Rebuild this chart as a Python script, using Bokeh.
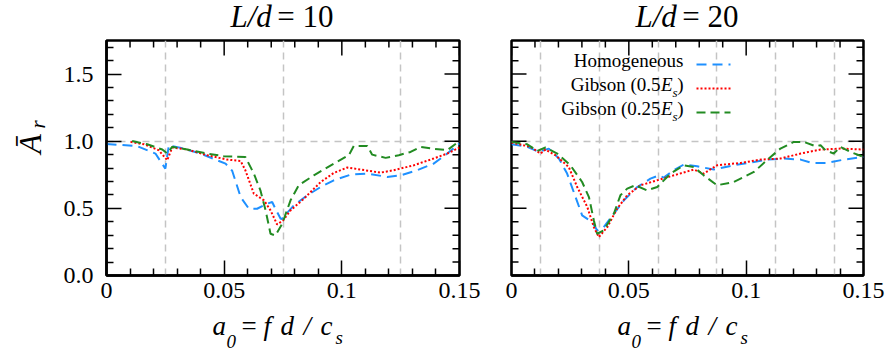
import math
from bokeh.plotting import figure
from bokeh.layouts import row, column
from bokeh.models import Range1d, FixedTicker, LinearAxis, Label
from bokeh.embed import file_html
from bokeh.resources import INLINE

# ---------------- data ----------------
x_ticks = [0.0, 0.05, 0.1, 0.15]
x_tick_labels = ["0", "0.05", "0.1", "0.15"]
x_minor_ticks = [0.01, 0.02, 0.03, 0.04, 0.06, 0.07, 0.08, 0.09, 0.11, 0.12, 0.13, 0.14]
y_ticks = [0.0, 0.5, 1.0, 1.5]
y_tick_labels = ["0.0", "0.5", "1.0", "1.5"]
y_minor_ticks = [0.1, 0.2, 0.3, 0.4, 0.6, 0.7, 0.8, 0.9, 1.1, 1.2, 1.3, 1.4, 1.6, 1.7]
grid_x_l10 = [0.025, 0.075, 0.125]
grid_x_l20 = [0.0125, 0.0375, 0.0625, 0.0875, 0.1125, 0.1375]
grid_y = [1.0]
panel_values = ["10", "20"]
series_names = ["Homogeneous", "Gibson (0.5", "Gibson (0.25"]

l10_homog_a0 = [0.0, 0.013, 0.0208, 0.025, 0.0265, 0.0328, 0.040, 0.0506, 0.0534, 0.057, 0.0605,
                0.064, 0.0683, 0.0704, 0.0725, 0.074, 0.0744, 0.0796, 0.0853, 0.091, 0.0966, 0.1037,
                0.1108, 0.1193, 0.125, 0.132, 0.139, 0.1448, 0.15]
l10_homog_A = [0.98, 0.963, 0.908, 0.796, 0.97, 0.945, 0.908, 0.833, 0.78, 0.584, 0.497,
               0.497, 0.535, 0.547, 0.472, 0.423, 0.42, 0.522, 0.597, 0.659, 0.709, 0.751,
               0.759, 0.734, 0.746, 0.784, 0.833, 0.908, 0.983]

l10_g05_a0 = [0.0102, 0.0159, 0.0222, 0.0258, 0.0279, 0.0343, 0.0428, 0.0513, 0.057, 0.059, 0.0626,
              0.0669, 0.0697, 0.0725, 0.075, 0.0782, 0.0839, 0.091, 0.0966, 0.1023, 0.108, 0.1164,
              0.1221, 0.1306, 0.139, 0.1448, 0.15]
l10_g05_A = [0.995, 0.977, 0.933, 0.858, 0.953, 0.938, 0.896, 0.863, 0.853, 0.784, 0.61,
             0.56, 0.485, 0.38, 0.41, 0.485, 0.572, 0.696, 0.764, 0.804, 0.789, 0.766,
             0.784, 0.821, 0.871, 0.908, 0.953]

l10_g025_a0 = [0.0109, 0.0173, 0.0237, 0.0258, 0.0279, 0.0343, 0.0428, 0.0499, 0.059, 0.0626, 0.0654,
               0.0676, 0.0697, 0.0718, 0.0747, 0.0782, 0.0817, 0.0881, 0.0966, 0.103, 0.1051, 0.1108,
               0.1129, 0.1186, 0.1242, 0.1292, 0.1334, 0.1384, 0.1448, 0.15]
l10_g025_A = [1.002, 0.977, 0.938, 0.908, 0.958, 0.938, 0.908, 0.888, 0.883, 0.759, 0.634,
              0.485, 0.311, 0.298, 0.386, 0.56, 0.672, 0.746, 0.833, 0.896, 0.965, 0.965,
              0.9, 0.876, 0.896, 0.92, 0.958, 0.945, 0.933, 1.002]

l20_homog_a0 = [0.0, 0.0067, 0.0117, 0.0159, 0.0202, 0.0237, 0.0273, 0.0301, 0.0344, 0.0365, 0.0393,
                0.0436, 0.0479, 0.0536, 0.0592, 0.0628, 0.0649, 0.0692, 0.0734, 0.0791, 0.0862,
                0.0947, 0.1033, 0.109, 0.116, 0.1232, 0.1281, 0.1345, 0.1416, 0.15]
l20_homog_A = [0.978, 0.958, 0.92, 0.945, 0.871, 0.759, 0.584, 0.448, 0.398, 0.336, 0.36,
               0.46, 0.56, 0.659, 0.721, 0.746, 0.729, 0.784, 0.826, 0.813, 0.789,
               0.821, 0.846, 0.863, 0.871, 0.863, 0.838, 0.838, 0.863, 0.883]

l20_g05_a0 = [0.0, 0.0081, 0.0124, 0.0145, 0.0187, 0.0244, 0.028, 0.0323, 0.0351, 0.0372, 0.0408,
              0.045, 0.0493, 0.055, 0.0621, 0.0692, 0.0777, 0.0819, 0.0876, 0.0976, 0.1061,
              0.1146, 0.1232, 0.1317, 0.1402, 0.15]
l20_g05_A = [0.99, 0.958, 0.908, 0.938, 0.896, 0.808, 0.659, 0.51, 0.36, 0.286, 0.36,
             0.497, 0.597, 0.672, 0.709, 0.746, 0.789, 0.759, 0.821, 0.838, 0.863,
             0.871, 0.908, 0.938, 0.945, 0.938]

l20_g025_a0 = [0.0, 0.0067, 0.011, 0.0145, 0.0195, 0.0251, 0.0301, 0.033, 0.0351, 0.0365, 0.0393,
               0.0436, 0.0464, 0.0493, 0.0528, 0.0578, 0.0621, 0.0678, 0.0734, 0.0777, 0.0819,
               0.0876, 0.0947, 0.1033, 0.1104, 0.1146, 0.1203, 0.1246, 0.1295, 0.1317, 0.1338,
               0.1373, 0.1402, 0.1445, 0.15]
l20_g025_A = [0.995, 0.977, 0.928, 0.953, 0.908, 0.821, 0.696, 0.584, 0.41, 0.311, 0.336,
              0.46, 0.597, 0.647, 0.672, 0.634, 0.659, 0.759, 0.821, 0.808, 0.746,
              0.672, 0.696, 0.771, 0.883, 0.945, 0.995, 0.995, 0.963, 0.97, 0.933,
              0.908, 0.958, 0.92, 0.883]

# ---------------- layout / style ----------------
FONT = "Liberation Serif"
W = 888
TITLE_H = 36          # title strip height
YLAB_W = 50           # y-label strip width
FRAME_TOP, FRAME_H, FRAME_BOTTOM = 4, 235, 36
MID_H = FRAME_TOP + FRAME_H + FRAME_BOTTOM
XLAB_H = 354 - TITLE_H - MID_H
STYLES = [
    dict(color="#1e90ff", line_dash="10 6", line_width=2),
    dict(color="#ff0000", line_dash="2 2", line_width=2),
    dict(color="#228b22", line_dash="9 5", line_width=2),
]
XMAX, YMAX = 0.15, 1.75
MAJ_LEN, MIN_LEN = 15, 7
DESC = 0.22           # descent (fraction of font size) for bottom-anchored text


def style_axis(ax, standoff):
    ax.axis_line_color = "black"
    ax.axis_line_width = 2.5
    ax.major_tick_in = MAJ_LEN
    ax.major_tick_out = 0
    ax.minor_tick_in = MIN_LEN
    ax.minor_tick_out = 0
    ax.major_tick_line_width = 1.5
    ax.minor_tick_line_width = 1.5
    ax.major_tick_line_color = "black"
    ax.minor_tick_line_color = "black"
    ax.major_label_text_font = FONT
    ax.major_label_text_font_size = "24px"
    ax.major_label_text_color = "black"
    ax.major_label_standoff = standoff


def make_panel(width, bl, br, grid_x, series, with_left_axis):
    fw = width - bl - br
    p = figure(width=width, height=MID_H, x_range=Range1d(0, XMAX), y_range=Range1d(0, YMAX),
               output_backend="svg", toolbar_location=None, title=None,
               min_border_left=bl, min_border_right=br, min_border_top=FRAME_TOP,
               min_border_bottom=FRAME_BOTTOM, x_axis_location=None, y_axis_location=None)
    p.outline_line_color = "black"
    p.outline_line_width = 2.5
    p.background_fill_color = "white"
    p.border_fill_color = "white"

    xt = FixedTicker(ticks=x_ticks, minor_ticks=x_minor_ticks)
    yt = FixedTicker(ticks=y_ticks, minor_ticks=y_minor_ticks)
    xax = LinearAxis(ticker=xt, major_label_overrides=dict(zip(x_ticks, x_tick_labels)))
    style_axis(xax, 7)
    p.add_layout(xax, "below")
    if with_left_axis:
        yax = LinearAxis(ticker=yt, major_label_overrides=dict(zip(y_ticks, y_tick_labels)))
        style_axis(yax, 13)
        p.add_layout(yax, "left")

    p.xgrid.ticker = FixedTicker(ticks=grid_x)
    p.ygrid.ticker = FixedTicker(ticks=grid_y)
    for g in (p.xgrid, p.ygrid):
        g.grid_line_color = "#c4c4c4"
        g.grid_line_dash = "7 5"
        g.grid_line_width = 1.5

    # mirrored (label-less) ticks on top / right (and left for the second panel)
    dx = XMAX / fw
    dy = YMAX / FRAME_H
    for ticks, ln in ((x_ticks, MAJ_LEN), (x_minor_ticks, MIN_LEN)):
        n = len(ticks)
        p.segment(x0=ticks, y0=[YMAX] * n, x1=ticks, y1=[YMAX - ln * dy] * n,
                  line_color="black", line_width=1.5)
    sides = [XMAX] + ([] if with_left_axis else [0.0])
    for side in sides:
        sgn = -1 if side == XMAX else 1
        for ticks, ln in ((y_ticks, MAJ_LEN), (y_minor_ticks, MIN_LEN)):
            n = len(ticks)
            p.segment(x0=[side] * n, y0=ticks, x1=[side + sgn * ln * dx] * n, y1=ticks,
                      line_color="black", line_width=1.5)

    for (xs, ys), st in zip(series, STYLES):
        p.line(xs, ys, **st)
    return p, fw


def text_strip(width, height):
    s = figure(width=width, height=height, x_range=Range1d(0, width), y_range=Range1d(0, height),
               output_backend="svg", toolbar_location=None, title=None,
               min_border=0, x_axis_location=None, y_axis_location=None)
    s.outline_line_color = None
    s.background_fill_color = "white"
    s.border_fill_color = "white"
    s.grid.visible = False
    return s


def lab(p, h, text, x, y_base, size, style="normal", align="left", angle=0.0):
    """Place text with its baseline at y_base (px from the strip top); for rotated
    text x is the baseline position (px from strip left)."""
    d = DESC * size
    if angle == 0.0:
        xx, yy = x, h - (y_base + d)
    else:
        xx, yy = x + d, h - y_base
    p.add_layout(Label(x=xx, y=yy, text=text, text_font=FONT, text_font_size=f"{size}px",
                       text_font_style=style, text_align=align, text_baseline="bottom",
                       angle=angle, text_color="black"))


left_w = 485 - YLAB_W
left, fw_l = make_panel(left_w, 106 - YLAB_W, 26, grid_x_l10,
                        [(l10_homog_a0, l10_homog_A), (l10_g05_a0, l10_g05_A), (l10_g025_a0, l10_g025_A)],
                        True)
right, fw_r = make_panel(W - 485, 26, 25, grid_x_l20,
                         [(l20_homog_a0, l20_homog_A), (l20_g05_a0, l20_g05_A), (l20_g025_a0, l20_g025_A)],
                         False)

# ---- title strip (absolute x, y from top) ----
top = text_strip(W, TITLE_H)
frame_lefts = [106, 511]
for fl, num in zip(frame_lefts, panel_values):
    lab(top, TITLE_H, "L/d", fl + 124, 27, 31, "italic", "left")
    lab(top, TITLE_H, "= " + num, fl + 227, 27, 31, "normal", "right")

# ---- x-label strip ----
bot = text_strip(W, XLAB_H)
y0 = TITLE_H + MID_H
base = 335 - y0
sub = base + 8
for fl in frame_lefts:
    x0 = fl + 106
    lab(bot, XLAB_H, "a", x0, base, 27, "italic")
    lab(bot, XLAB_H, "0", x0 + 14, sub, 19, "italic")
    lab(bot, XLAB_H, "=", x0 + 29, base, 27, "normal")
    lab(bot, XLAB_H, "f", x0 + 51, base, 27, "italic")
    lab(bot, XLAB_H, "d", x0 + 68, base, 27, "italic")
    lab(bot, XLAB_H, "/", x0 + 91, base, 27, "italic")
    lab(bot, XLAB_H, "c", x0 + 108, base, 27, "italic")
    lab(bot, XLAB_H, "s", x0 + 123, sub, 19, "italic")

# ---- y-label strip (rotated) ----
yl = text_strip(YLAB_W, MID_H)
lab(yl, MID_H, "\u0100", 40, 157 - TITLE_H, 32, "italic", "center", math.pi / 2)
lab(yl, MID_H, "r", 45, 139 - TITLE_H, 21, "italic", "left", math.pi / 2)

# ---- legend inside right panel ----
def rpx(x):
    return (x - 511) / fw_r * XMAX


def rpy(y):
    return (TITLE_H + FRAME_TOP + FRAME_H - y) / FRAME_H * YMAX


rows_y = [70, 94, 118]
for i, (name, st, yy) in enumerate(zip(series_names, STYLES, rows_y)):
    if i == 0:
        pieces = [(name, 0, 0, 19, "normal")]
    else:
        pieces = [(")", 0, 0, 19, "normal"), ("s", 6, 5, 13, "italic"),
                  ("E", 11, 0, 19, "italic"), (name, 23, 0, 19, "normal")]
    for t, off, dy, sz, stl in pieces:
        right.add_layout(Label(x=rpx(683 - off), y=rpy(yy + dy), text=t, text_font=FONT,
                               text_font_size=f"{sz}px", text_font_style=stl,
                               text_align="right", text_baseline="bottom", text_color="black"))
    ly = rpy(yy - 6)
    right.line([rpx(696), rpx(730)], [ly, ly], **st)

layout = column(top, row(yl, left, right), bot)
open("out.html", "w").write(file_html(layout, INLINE))
